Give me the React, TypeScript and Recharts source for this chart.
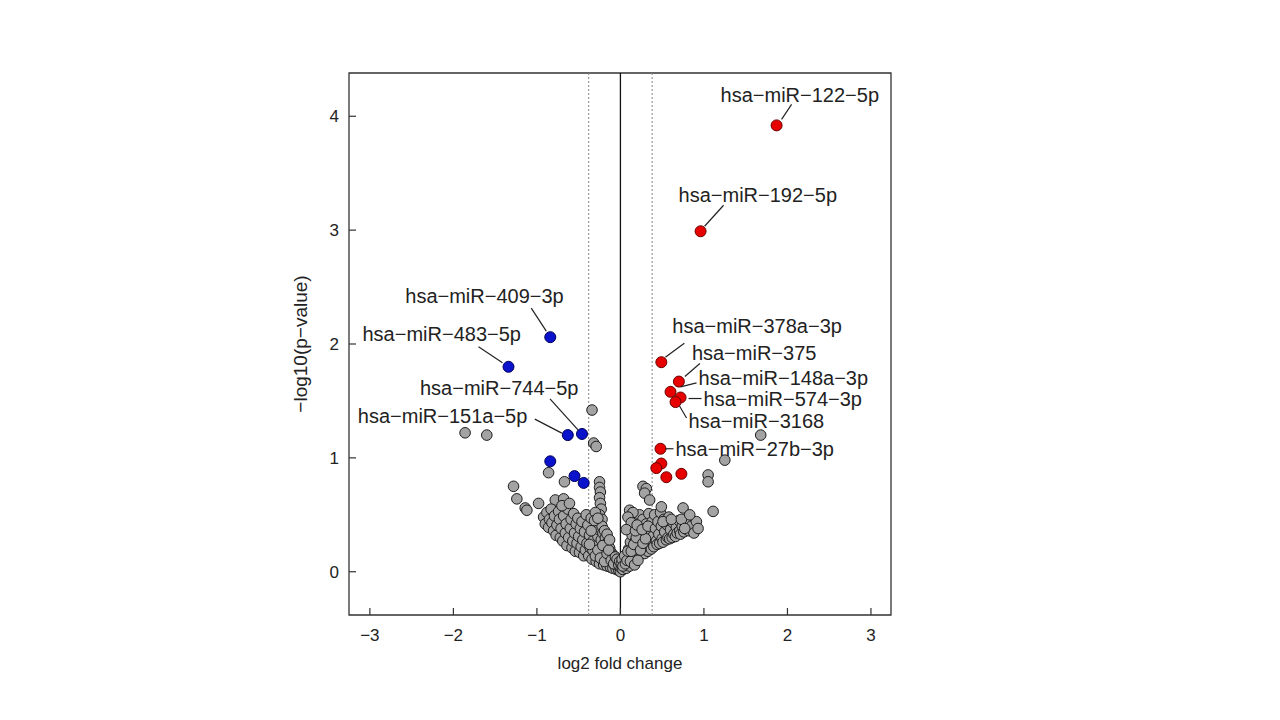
import { ScatterChart, Scatter, XAxis, YAxis, ReferenceLine, ReferenceArea } from "recharts";

const FONT = '"Liberation Sans", Arial, sans-serif';

// up-regulated miRNAs (red)
const upNames = [
  "hsa-miR-122-5p", "hsa-miR-192-5p", "hsa-miR-378a-3p", "hsa-miR-375",
  "hsa-miR-148a-3p", "hsa-miR-574-3p", "hsa-miR-3168", "hsa-miR-27b-3p",
  "", "", "", "",
];
const upLog2FC = [1.87, 0.96, 0.49, 0.70, 0.60, 0.72, 0.66, 0.48, 0.49, 0.43, 0.55, 0.73];
const upNegLogP = [3.92, 2.99, 1.84, 1.67, 1.58, 1.53, 1.49, 1.08, 0.95, 0.91, 0.83, 0.86];

// down-regulated miRNAs (blue)
const downNames = ["hsa-miR-409-3p", "hsa-miR-483-5p", "hsa-miR-744-5p", "hsa-miR-151a-5p", "", "", ""];
const downLog2FC = [-0.84, -1.34, -0.46, -0.63, -0.84, -0.55, -0.44];
const downNegLogP = [2.06, 1.80, 1.21, 1.20, 0.97, 0.84, 0.78];

// not significant (grey), [log2FC, -log10 p]
const nsPoints: [number, number][] = [
  [-1.86, 1.22], [-1.60, 1.20], [-0.34, 1.42], [-0.32, 1.13], [-0.29, 1.10], [-0.86, 0.87], [-0.67, 0.79],
  [-1.28, 0.75], [-1.24, 0.64], [-1.14, 0.56], [-1.12, 0.54], [-0.98, 0.60], [-0.78, 0.63], [-0.68, 0.64],
  [-0.25, 0.79], [-0.25, 0.74], [-0.24, 0.70], [-0.25, 0.65], [-0.24, 0.60], [-0.23, 0.55], [-0.25, 0.50], [-0.22, 0.46],
  [-0.92, 0.48], [-0.90, 0.42], [-0.88, 0.52], [-0.86, 0.39], [-0.85, 0.46], [-0.83, 0.55], [-0.82, 0.43],
  [-0.80, 0.36], [-0.79, 0.49], [-0.77, 0.32], [-0.76, 0.41], [-0.74, 0.53], [-0.73, 0.46], [-0.72, 0.30],
  [-0.71, 0.38], [-0.69, 0.27], [-0.68, 0.49], [-0.66, 0.34], [-0.65, 0.42], [-0.64, 0.23], [-0.63, 0.55],
  [-0.62, 0.30], [-0.60, 0.38], [-0.59, 0.46], [-0.58, 0.21], [-0.57, 0.27], [-0.56, 0.51], [-0.55, 0.34],
  [-0.54, 0.18], [-0.53, 0.42], [-0.52, 0.25], [-0.51, 0.47], [-0.50, 0.31], [-0.49, 0.17], [-0.48, 0.38],
  [-0.47, 0.22], [-0.46, 0.44], [-0.45, 0.28], [-0.44, 0.14], [-0.43, 0.35], [-0.42, 0.19], [-0.41, 0.50],
  [-0.40, 0.25], [-0.70, 0.58], [-0.61, 0.60],
  [-0.39, 0.41], [-0.38, 0.14], [-0.37, 0.32], [-0.36, 0.21], [-0.35, 0.47], [-0.34, 0.11], [-0.33, 0.27],
  [-0.32, 0.37], [-0.31, 0.17], [-0.30, 0.52], [-0.29, 0.09], [-0.28, 0.23], [-0.28, 0.42], [-0.27, 0.31],
  [-0.26, 0.14], [-0.26, 0.37], [-0.25, 0.07], [-0.24, 0.20], [-0.23, 0.28], [-0.22, 0.40], [-0.22, 0.11],
  [-0.21, 0.34], [-0.20, 0.17], [-0.20, 0.06], [-0.19, 0.25], [-0.18, 0.30], [-0.17, 0.12], [-0.17, 0.20],
  [-0.16, 0.05], [-0.15, 0.26], [-0.15, 0.15], [-0.14, 0.09], [-0.13, 0.21], [-0.12, 0.04], [-0.12, 0.13],
  [-0.11, 0.17], [-0.10, 0.08], [-0.09, 0.11], [-0.09, 0.03], [-0.08, 0.14], [-0.07, 0.06], [-0.06, 0.09],
  [-0.05, 0.02], [-0.04, 0.05], [-0.03, 0.08], [-0.02, 0.01], [-0.01, 0.04],
  [-0.33, 0.19], [-0.30, 0.14], [-0.27, 0.19], [-0.24, 0.12], [-0.21, 0.23], [-0.19, 0.09], [-0.16, 0.16],
  [-0.14, 0.19], [-0.11, 0.10], [-0.08, 0.07], [-0.06, 0.13], [-0.04, 0.11], [-0.02, 0.06], [-0.01, 0.09],
  [-0.37, 0.24], [-0.35, 0.36], [-0.31, 0.45], [-0.27, 0.47], [-0.19, 0.36], [-0.16, 0.33], [-0.13, 0.28],
  [0.00, 0.00], [0.01, 0.03], [0.02, 0.06], [0.03, 0.02], [0.04, 0.09], [0.05, 0.05], [0.06, 0.12],
  [0.07, 0.03], [0.08, 0.16], [0.09, 0.08], [0.10, 0.20], [0.10, 0.11], [0.11, 0.05], [0.12, 0.26],
  [0.13, 0.14], [0.14, 0.32], [0.14, 0.08], [0.15, 0.21], [0.16, 0.38], [0.17, 0.12], [0.18, 0.27],
  [0.18, 0.45], [0.19, 0.17], [0.20, 0.12], [0.21, 0.33], [0.22, 0.22], [0.23, 0.50], [0.23, 0.15],
  [0.24, 0.40], [0.25, 0.28], [0.26, 0.16], [0.27, 0.46], [0.28, 0.35], [0.29, 0.16], [0.30, 0.22],
  [0.31, 0.42], [0.32, 0.30], [0.33, 0.18], [0.34, 0.51], [0.35, 0.37], [0.36, 0.25], [0.37, 0.20],
  [0.38, 0.44], [0.39, 0.31], [0.11, 0.54], [0.15, 0.52], [0.09, 0.48], [0.13, 0.43], [0.07, 0.37],
  [0.01, 0.07], [0.02, 0.11], [0.03, 0.05], [0.05, 0.14], [0.06, 0.07], [0.08, 0.10], [0.09, 0.18],
  [0.12, 0.09], [0.13, 0.18], [0.16, 0.24], [0.17, 0.06], [0.19, 0.30], [0.21, 0.10], [0.24, 0.19],
  [0.27, 0.25], [0.30, 0.29], [0.18, 0.36], [0.20, 0.41], [0.26, 0.37], [0.33, 0.40],
  [0.40, 0.22], [0.41, 0.50], [0.42, 0.38], [0.43, 0.27], [0.44, 0.24], [0.45, 0.44], [0.46, 0.33],
  [0.47, 0.25], [0.48, 0.52], [0.49, 0.40], [0.50, 0.29], [0.51, 0.26], [0.52, 0.46], [0.53, 0.35],
  [0.55, 0.28], [0.56, 0.41], [0.57, 0.30], [0.58, 0.48], [0.59, 0.29], [0.60, 0.37], [0.62, 0.30],
  [0.63, 0.43], [0.64, 0.33], [0.66, 0.31], [0.67, 0.39], [0.68, 0.34], [0.70, 0.45], [0.71, 0.36],
  [0.72, 0.33], [0.74, 0.40], [0.76, 0.35], [0.78, 0.43], [0.80, 0.37], [0.82, 0.36], [0.85, 0.40],
  [0.88, 0.34], [0.91, 0.44], [0.93, 0.38],
  [0.27, 0.75], [0.31, 0.73], [0.29, 0.69], [0.35, 0.63], [0.49, 0.57], [0.75, 0.56], [0.51, 0.44],
  [0.61, 0.46], [0.73, 0.46], [0.83, 0.50], [0.77, 0.38], [1.11, 0.53], [1.05, 0.85], [1.05, 0.79],
  [1.25, 0.98], [1.68, 1.20],
];

const xTicks = [-3, -2, -1, 0, 1, 2, 3];
const yTicks = [0, 1, 2, 3, 4];
const xDomain: [number, number] = [-3.25, 3.24];
const yDomain: [number, number] = [-0.38, 4.38];
const fcCutoff = 0.38;

// label placement, pixel offsets from the point: text start, leader line
const labelOffsets: Record<string, { tx: number; ty: number; line: number[] }> = {
  "hsa-miR-122-5p": { tx: -56, ty: -31, line: [15, -21, 5, -6] },
  "hsa-miR-192-5p": { tx: -22, ty: -36, line: [23, -26, 4, -5] },
  "hsa-miR-378a-3p": { tx: 11, ty: -36, line: [23, -19, 4, -5] },
  "hsa-miR-375": { tx: 13, ty: -29, line: [21, -18, 6, -5] },
  "hsa-miR-148a-3p": { tx: 28, ty: -14, line: [26, -9, 10, -5] },
  "hsa-miR-574-3p": { tx: 23, ty: 1, line: [8, 1, 21, 1] },
  "hsa-miR-3168": { tx: 13, ty: 19, line: [11, 16, 4, 4] },
  "hsa-miR-27b-3p": { tx: 15, ty: 0, line: [5, 0, 13, 0] },
  "hsa-miR-409-3p": { tx: -145, ty: -41, line: [-19, -29, -4, -6] },
  "hsa-miR-483-5p": { tx: -146, ty: -33, line: [-30, -20, -6, -4] },
  "hsa-miR-744-5p": { tx: -162, ty: -46, line: [-32, -35, -4, -4] },
  "hsa-miR-151a-5p": { tx: -210, ty: -19, line: [-33, -16, -6, -2] },
};

const nsData = nsPoints.map(([x, y]) => ({ x, y }));
const upData = upNames.map((name, i) => ({ name, x: upLog2FC[i], y: upNegLogP[i] }));
const downData = downNames.map((name, i) => ({ name, x: downLog2FC[i], y: downNegLogP[i] }));

const minus = (s: string) => s.replace(/-/g, "\u2212");
const fmt = (v: number) => (v < 0 ? "\u2212" + Math.abs(v) : String(v));

const XTick = (props: any) => {
  const { x, y, payload } = props;
  return (
    <g>
      <line x1={x} x2={x} y1={y} y2={y - 7} stroke="#333" strokeWidth={1.2} />
      <text x={x} y={y + 26} textAnchor="middle" fontSize={17} fill="#222" fontFamily={FONT}>
        {fmt(payload.value)}
      </text>
    </g>
  );
};

const YTick = (props: any) => {
  const { x, y, payload } = props;
  return (
    <g>
      <line x1={x} x2={x + 7} y1={y} y2={y} stroke="#333" strokeWidth={1.2} />
      <text x={x - 10} y={y} dy="0.36em" textAnchor="end" fontSize={17} fill="#222" fontFamily={FONT}>
        {fmt(payload.value)}
      </text>
    </g>
  );
};

const greyDot = (p: any) => (
  <circle cx={p.cx} cy={p.cy} r={5.3} fill="#a3a3a3" stroke="#1c1c1c" strokeWidth={1} />
);

const labeledDot = (fill: string, stroke: string) => (p: any) => {
  const name: string = p.payload?.name ?? "";
  const off = name ? labelOffsets[name] : undefined;
  return (
    <g>
      <circle cx={p.cx} cy={p.cy} r={5.5} fill={fill} stroke={stroke} strokeWidth={1} />
      {off && (
        <>
          <line
            x1={p.cx + off.line[0]}
            y1={p.cy + off.line[1]}
            x2={p.cx + off.line[2]}
            y2={p.cy + off.line[3]}
            stroke="#222"
            strokeWidth={1.2}
          />
          <text
            x={p.cx + off.tx}
            y={p.cy + off.ty}
            dy="0.36em"
            fontSize={20}
            fill="#222"
            fontFamily={FONT}
          >
            {minus(name)}
          </text>
        </>
      )}
    </g>
  );
};

export default function App() {
  return (
    <div style={{ position: "absolute", left: 0, top: 0, width: 1280, height: 720, background: "#fff" }}>
      <ScatterChart width={1280} height={720} margin={{ top: 73, right: 389, bottom: 35, left: 289 }}>
        <XAxis
          type="number"
          dataKey="x"
          domain={xDomain}
          ticks={xTicks}
          allowDataOverflow
          height={70}
          axisLine={false}
          tickSize={0}
          tickMargin={0}
          tick={<XTick />}
          label={{
            content: (lp: any) => (
              <text
                x={lp.viewBox.x + lp.viewBox.width / 2}
                y={lp.viewBox.y + 54}
                textAnchor="middle"
                fontSize={17}
                fill="#222"
                fontFamily={FONT}
              >
                log2 fold change
              </text>
            ),
          }}
        />
        <YAxis
          type="number"
          dataKey="y"
          domain={yDomain}
          ticks={yTicks}
          allowDataOverflow
          width={60}
          axisLine={false}
          tickSize={0}
          tickMargin={0}
          tick={<YTick />}
          label={{
            content: (lp: any) => {
              const cx = lp.viewBox.x + 11;
              const cy = lp.viewBox.y + lp.viewBox.height / 2;
              return (
                <text
                  x={cx}
                  y={cy}
                  dy="0.36em"
                  transform={`rotate(-90 ${cx} ${cy})`}
                  textAnchor="middle"
                  fontSize={19}
                  fill="#222"
                  fontFamily={FONT}
                >
                  {"\u2212log10(p\u2212value)"}
                </text>
              );
            },
          }}
        />
        <ReferenceArea
          x1={xDomain[0]}
          x2={xDomain[1]}
          y1={yDomain[0]}
          y2={yDomain[1]}
          fill="none"
          stroke="#333"
          strokeWidth={1.3}
        />
        <ReferenceLine x={-fcCutoff} stroke="#888" strokeDasharray="2 2" />
        <ReferenceLine x={fcCutoff} stroke="#888" strokeDasharray="2 2" />
        <ReferenceLine x={0} stroke="#111" strokeWidth={1.3} />
        <Scatter data={nsData} shape={greyDot} isAnimationActive={false} />
        <Scatter data={downData} shape={labeledDot("#0a12cc", "#00005a")} isAnimationActive={false} />
        <Scatter data={upData} shape={labeledDot("#e60000", "#6a0000")} isAnimationActive={false} />
      </ScatterChart>
    </div>
  );
}
